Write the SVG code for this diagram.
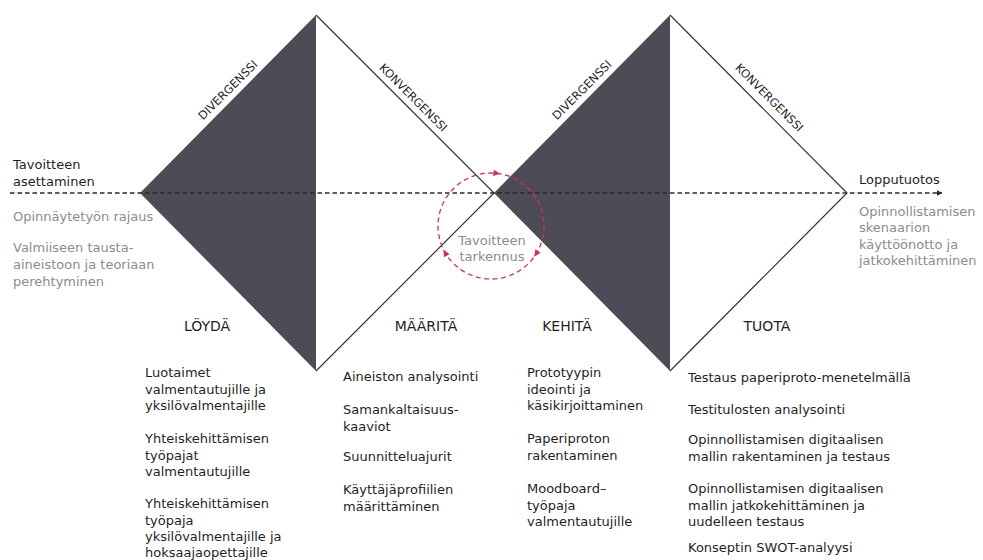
<svg xmlns="http://www.w3.org/2000/svg" xmlns:xlink="http://www.w3.org/1999/xlink" width="983" height="560" viewBox="0 0 983 560">
<style>
text{font-family:"DejaVu Sans","Noto Sans",sans-serif;}
.t{font-size:13px;fill:#1f1f1f;}
.g{font-size:13px;fill:#8c8c8c;}
.ph{font-size:14px;fill:#1f1f1f;text-anchor:middle;}
.rot{font-size:11.5px;fill:#1f1f1f;text-anchor:middle;}
.dark{fill:#4c4b56;}
.edge{fill:none;stroke:#333;stroke-width:1.2;}
.dash{fill:none;stroke:#2b2b2b;stroke-width:1.5;stroke-dasharray:4.5 3;}
.loop{fill:none;stroke:#c8306a;stroke-width:1.3;stroke-dasharray:5 3.5;}
.ah{fill:#c8306a;}
</style>
<defs>
<path id="ah" d="M2,0 L-5,-3.2 L-5,3.2 Z"/>
<marker id="arr" viewBox="0 0 10 10" refX="9" refY="5" markerWidth="6" markerHeight="6" orient="auto" markerUnits="userSpaceOnUse">
<path d="M0,0 L10,5 L0,10 Z" fill="#2b2b2b"/>
</marker>
</defs>
<rect width="983" height="560" fill="#fff"/>

<g id="diamond1">
<polygon class="dark" points="140,193 316,15 316,371"/>
<polyline class="edge" points="316,15 494,193 316,371"/>
<text class="rot" transform="translate(235,97) rotate(-45)" y="-6">DIVERGENSSI</text>
<text class="rot" transform="translate(407,104) rotate(45)" y="-5">KONVERGENSSI</text>
</g>

<g id="diamond2">
<polygon class="dark" points="494,193 670,15 670,371"/>
<polyline class="edge" points="670,15 847,193 670,371"/>
<text class="rot" transform="translate(589,97) rotate(-45)" y="-6">DIVERGENSSI</text>
<text class="rot" transform="translate(763,104) rotate(45)" y="-5">KONVERGENSSI</text>
</g>

<g id="connectors">
<line class="dash" x1="10" y1="193" x2="942" y2="193" marker-end="url(#arr)"/>
<circle class="loop" cx="491" cy="226" r="53"/>
<use xlink:href="#ah" class="ah" transform="translate(498.4,173.5) rotate(8)"/>
<use xlink:href="#ah" class="ah" transform="translate(444.4,251.3) rotate(241.5)"/>
<use xlink:href="#ah" class="ah" transform="translate(535.2,255.2) rotate(123.4)"/>
</g>

<g id="start">
<text class="t" x="13" y="169">Tavoitteen</text>
<text class="t" x="13" y="186">asettaminen</text>
<text class="g" x="13" y="221">Opinnäytetyön rajaus</text>
<text class="g" x="13" y="252">Valmiiseen tausta-</text>
<text class="g" x="13" y="269">aineistoon ja teoriaan</text>
<text class="g" x="13" y="286">perehtyminen</text>
</g>

<g id="refine">
<text class="g" x="492" y="245" text-anchor="middle">Tavoitteen</text>
<text class="g" x="492" y="261" text-anchor="middle">tarkennus</text>
</g>

<g id="end">
<text class="t" x="859" y="184">Lopputuotos</text>
<text class="g" x="859" y="216">Opinnollistamisen</text>
<text class="g" x="859" y="232">skenaarion</text>
<text class="g" x="859" y="248.5">käyttöönotto ja</text>
<text class="g" x="859" y="265">jatkokehittäminen</text>
</g>

<g id="loyda">
<text class="ph" x="207" y="331">LÖYDÄ</text>
<text class="t" x="145" y="377">Luotaimet</text>
<text class="t" x="145" y="393.5">valmentautujille ja</text>
<text class="t" x="145" y="410">yksilövalmentajille</text>
<text class="t" x="145" y="443">Yhteiskehittämisen</text>
<text class="t" x="145" y="459.5">työpajat</text>
<text class="t" x="145" y="476">valmentautujille</text>
<text class="t" x="145" y="508">Yhteiskehittämisen</text>
<text class="t" x="145" y="524.5">työpaja</text>
<text class="t" x="145" y="541">yksilövalmentajille ja</text>
<text class="t" x="145" y="557">hoksaajaopettajille</text>
</g>

<g id="maarita">
<text class="ph" x="426" y="331">MÄÄRITÄ</text>
<text class="t" x="343" y="381">Aineiston analysointi</text>
<text class="t" x="343" y="414">Samankaltaisuus-</text>
<text class="t" x="343" y="430.5">kaaviot</text>
<text class="t" x="343" y="461">Suunnitteluajurit</text>
<text class="t" x="343" y="494">Käyttäjäprofiilien</text>
<text class="t" x="343" y="510.5">määrittäminen</text>
</g>

<g id="kehita">
<text class="ph" x="567" y="331">KEHITÄ</text>
<text class="t" x="527" y="377">Prototyypin</text>
<text class="t" x="527" y="393.5">ideointi ja</text>
<text class="t" x="527" y="410">käsikirjoittaminen</text>
<text class="t" x="527" y="443">Paperiproton</text>
<text class="t" x="527" y="459.5">rakentaminen</text>
<text class="t" x="527" y="493">Moodboard–</text>
<text class="t" x="527" y="509.5">työpaja</text>
<text class="t" x="527" y="526">valmentautujille</text>
</g>

<g id="tuota">
<text class="ph" x="767" y="331">TUOTA</text>
<text class="t" x="688" y="382">Testaus paperiproto-menetelmällä</text>
<text class="t" x="688" y="414">Testitulosten analysointi</text>
<text class="t" x="688" y="444">Opinnollistamisen digitaalisen</text>
<text class="t" x="688" y="460.5">mallin rakentaminen ja testaus</text>
<text class="t" x="688" y="493">Opinnollistamisen digitaalisen</text>
<text class="t" x="688" y="509.5">mallin jatkokehittäminen ja</text>
<text class="t" x="688" y="526">uudelleen testaus</text>
<text class="t" x="688" y="552">Konseptin SWOT-analyysi</text>
</g>
</svg>
